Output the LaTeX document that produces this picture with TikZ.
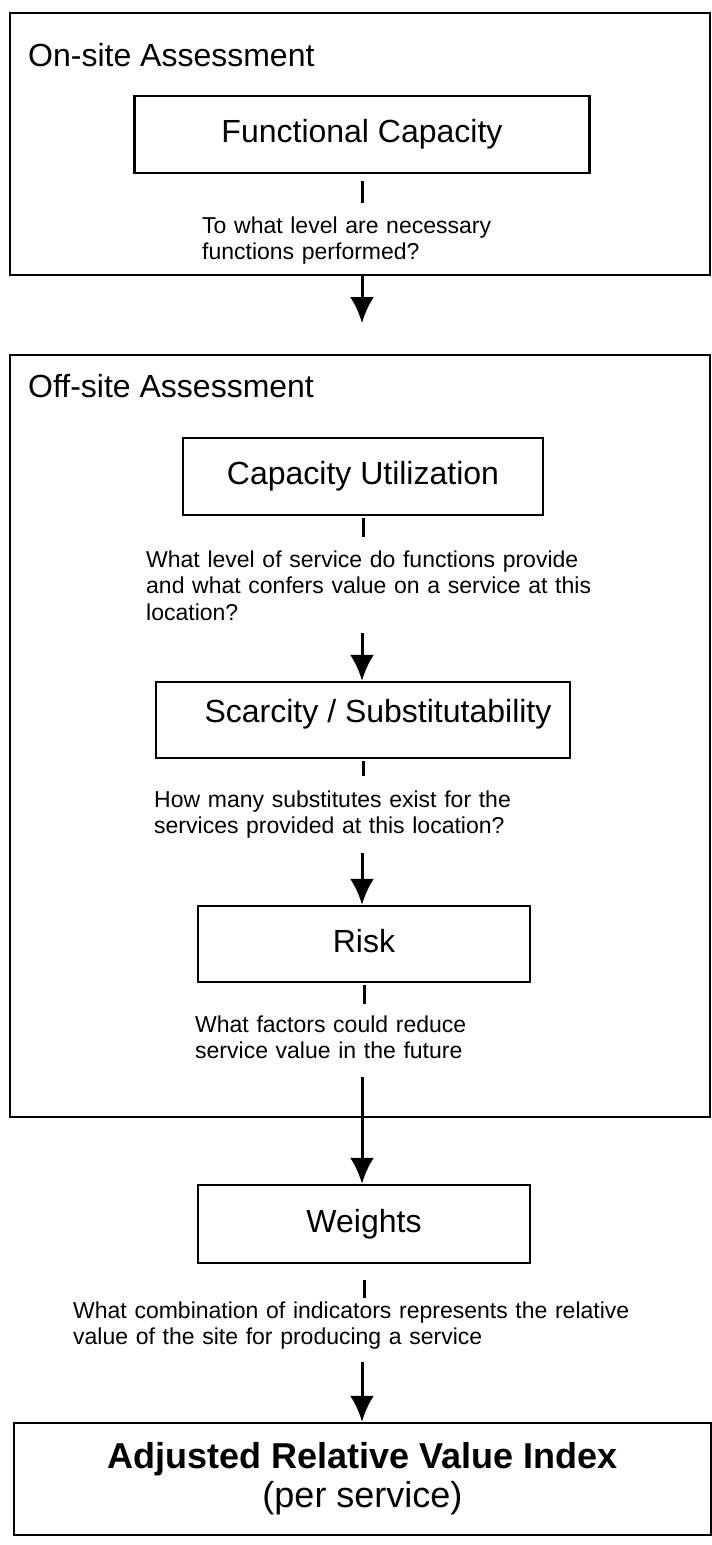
\documentclass[tikz,border=0pt]{standalone}
\usepackage{fontspec}
\setmainfont{Liberation Sans}
\usetikzlibrary{arrows.meta,positioning}

\tikzset{
  frame/.style={draw,line width=2.5pt,inner sep=0pt},
  stage/.style={draw,line width=2.5pt,inner sep=0pt,font=\fontsize{32}{36}\selectfont,text height=24pt,text depth=8pt},
  title/.style={anchor=base west,inner sep=0pt,font=\fontsize{32}{36}\selectfont},
  ask/.style={anchor=base west,inner sep=0pt,text width=560pt,align=left,font=\fontsize{23}{26.5}\selectfont},
  tick/.style={line width=3pt},
  flow/.style={line width=3pt,->,>={Latex[length=26pt,width=24pt]}}
}

\begin{document}
\begin{tikzpicture}[x=1pt,y=-1pt]
        \useasboundingbox (0,0) rectangle (712,1545);
        \node[frame,minimum width=700pt,minimum height=262pt] (onsite) at (360,144) {};
        \node[frame,minimum width=700pt,minimum height=762pt] (offsite) at (360,736) {};
        \node[title] (ontitle) at (28,66) {On-site Assessment};
        \node[title] (offtitle) at (28,397) {Off-site Assessment};

        \node[stage,minimum width=455pt,minimum height=77pt] (fc) at (362,134.5) {Functional Capacity};
        \node[stage,minimum width=360pt,minimum height=77pt] (cu) at (363,476.5) {Capacity Utilization};
        \node[stage,minimum width=414pt,minimum height=76pt,text depth=20pt] (ss) at (363,720) {\hspace*{30pt}Scarcity / Substitutability};
        \node[stage,minimum width=332pt,minimum height=76pt] (risk) at (364,944) {Risk};
        \node[stage,minimum width=332pt,minimum height=78pt] (wt) at (364,1224) {Weights};
        \node[frame,minimum width=697pt,minimum height=112pt,align=center,font=\fontsize{36}{39}\selectfont] (arvi) at (362.5,1479) {\textbf{Adjusted Relative Value Index}\\(per service)};

        \node[ask] (q1) at (202,233) {To what level are necessary\\functions performed?};
        \node[ask] (q2) at (146,567) {What level of service do functions provide\\and what confers value on a service at this\\location?};
        \node[ask] (q3) at (154,807) {How many substitutes exist for the\\services provided at this location?};
        \node[ask] (q4) at (195,1032) {What factors could reduce\\service value in the future};
        \node[ask] (q5) at (73,1318) {What combination of indicators represents the relative\\value of the site for producing a service};

        \draw[tick] (fc.south) ++(0,7) -- ++(0,22);
        \draw[tick] (cu.south) ++(0,2) -- ++(0,19);
        \draw[tick] (ss.south) ++(0,2) -- ++(0,15);
        \draw[tick] (risk.south) ++(0,2) -- ++(0,19);
        \draw[tick] (wt.south) ++(0,16) -- ++(0,18);

        \coordinate (t1) at (362,323);
        \coordinate (s2) at (362,633);
        \coordinate (s3) at (362,853);
        \coordinate (s4) at (362,1077);
        \coordinate (s5) at (362,1362);
        \draw[flow] (fc |- onsite.south) -- (t1);
        \draw[flow] (s2) -- (s2 |- ss.north);
        \draw[flow] (s3) -- (s3 |- risk.north);
        \draw[flow] (s4) -- (s4 |- wt.north);
        \draw[flow] (s5) -- (s5 |- arvi.north);
\end{tikzpicture}
\end{document}
